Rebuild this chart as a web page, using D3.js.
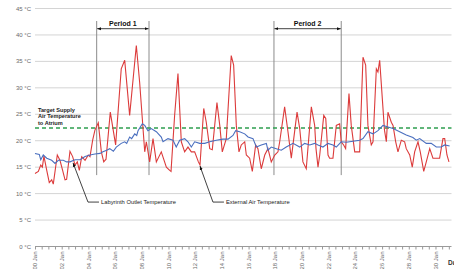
<!DOCTYPE html>
<html><head><meta charset="utf-8">
<script src="https://cdn.jsdelivr.net/npm/d3@7"></script>
<style>
html,body{margin:0;padding:0;background:#fff;overflow:hidden}
svg{display:block;font-family:"Liberation Sans",Arial,sans-serif}
</style></head><body>
<svg id="c" width="454" height="269"></svg>
<script>
// External air temperature [day, °C]
const externalAir = [
[0,13.8],[0.25,14.2],[0.43,15.4],[0.55,15],[0.67,17.1],[0.88,14.4],[1.07,12.1],[1.25,12.6],[1.37,11.8],[1.67,17.3],[1.87,16.3],[2.07,14.4],[2.25,12.6],[2.37,12.7],[2.62,18],[2.82,17],[3.0,15.4],[3.17,16],[3.32,14.4],[3.5,17],[3.75,16.3],[3.99,17.3],[4.12,17],[4.32,20.1],[4.49,22],[4.74,23.4],[4.97,17.9],[5.15,16],[5.32,16.5],[5.64,25.4],[6.04,19.2],[6.46,33.6],[6.72,35.2],[7.09,24.8],[7.59,38],[7.84,31],[8.22,17.9],[8.34,19.8],[8.59,16],[8.84,20.4],[9.09,16],[9.46,17.9],[9.84,15],[10.09,14.4],[10.19,14.2],[10.46,24.8],[10.71,32.7],[10.96,19.8],[11.21,17.9],[11.46,18.8],[11.71,17.9],[11.96,17.9],[12.24,16],[12.36,15.4],[12.64,26.1],[12.83,23.5],[13.09,18.5],[13.28,18.3],[13.63,27.2],[13.84,22.9],[14.03,17.9],[14.33,20.4],[14.7,36.1],[14.88,34.3],[15.08,22.9],[15.28,17.9],[15.45,19.2],[15.71,19.8],[15.83,17.3],[16.08,16.7],[16.28,14.2],[16.53,19.2],[16.7,18.5],[16.95,14.7],[17.21,17.3],[17.45,18.5],[17.7,16],[17.96,17.3],[18.2,17.9],[18.33,19.8],[18.7,26.4],[18.95,21.7],[19.2,16.7],[19.63,25.4],[19.83,22.3],[20.07,16],[20.32,14.7],[20.7,26.4],[20.95,22.9],[21.05,18.5],[21.2,15],[21.33,17.3],[21.63,24.8],[21.78,24.2],[21.95,17.3],[22.07,16.7],[22.32,16.7],[22.57,22.9],[22.82,23.2],[22.94,19.8],[23.12,19.2],[23.27,18.5],[23.52,28.9],[23.69,22.9],[23.95,17.9],[24.32,17.9],[24.57,35.8],[24.77,34.3],[24.94,22.9],[25.19,19.2],[25.32,19.8],[25.57,33.6],[25.69,33],[25.82,35.2],[26.18,22],[26.32,19.8],[26.44,25.4],[26.69,23.5],[26.82,22.9],[27.02,19.8],[27.19,17.9],[27.44,20.1],[27.69,19.8],[27.81,18.5],[28.07,17.3],[28.26,15],[28.44,17.9],[28.69,19.8],[28.86,17.9],[29.12,14.2],[29.31,16],[29.57,18.5],[29.81,16.7],[30.06,16.7],[30.31,16.7],[30.56,20.4],[30.69,20.4],[30.86,17.3],[31.01,16]
];
// Labyrinth outlet temperature [day, °C]
const labyrinthOutlet = [
[0,17.6],[0.32,17.4],[0.43,16.4],[0.62,17.3],[0.88,16.7],[1.25,16.3],[1.5,15.7],[1.75,16.3],[2.12,16.3],[2.37,16],[2.62,16],[3.0,16.4],[3.37,16.4],[3.75,17],[4.12,17.3],[4.49,17.5],[4.87,17.6],[5.09,17.9],[5.37,18.2],[5.6,18.5],[5.87,18],[6.09,18.8],[6.46,19.5],[6.72,19.8],[6.87,19.5],[7.09,20.7],[7.24,20.4],[7.47,21.3],[7.62,21],[7.72,21.9],[8.04,23.2],[8.22,22.9],[8.46,21.9],[8.71,22.3],[9.09,21.7],[9.46,20.7],[9.59,19.8],[9.96,20.4],[10.34,20.1],[10.58,18.8],[10.84,20.1],[11.21,20.4],[11.46,19.8],[11.71,18.8],[11.96,19.8],[12.34,19.5],[12.71,19.5],[13.09,19.8],[13.58,20.1],[14.08,20.3],[14.46,20.3],[14.83,21],[15.03,21.9],[15.33,21.7],[15.71,21.3],[15.96,20.7],[16.33,20.4],[16.58,18.8],[16.95,19.2],[17.33,19.5],[17.45,18.2],[17.7,18.8],[18.07,18.5],[18.45,18.2],[18.82,18.8],[19.33,19.5],[19.83,18.8],[20.2,19.5],[20.58,19.2],[20.95,19.5],[21.2,19.2],[21.57,18.8],[21.95,19.5],[22.32,19.2],[22.57,18.8],[22.94,19.8],[23.32,19.7],[23.82,19.9],[24.32,20.1],[24.57,20.4],[24.94,21.7],[25.32,21.3],[25.69,21.9],[26.07,22.9],[26.44,22.6],[26.82,22.3],[27.32,21.7],[27.81,21.1],[28.31,20.6],[28.56,20.1],[28.82,20.4],[29.31,19.5],[29.68,19.5],[30.06,18.8],[30.43,18.8],[30.69,19.2],[31.06,19]
];
const targetSupply = 22.4;
const targetLabel = ["Target Supply", "Air Temperature", "to Atrium"];
const periods = [
  {label: "Period 1", start: 4.62, end: 8.54},
  {label: "Period 2", start: 17.9, end: 22.94}
];
const yTicks = [0,5,10,15,20,25,30,35,40,45];
const xTickDays = d3.range(0, 31, 2);
const xTickLabels = xTickDays.map(d => String(d).padStart(2, "0") + " Jan");
const annotations = [
  {text: "Labyrinth Outlet Temperature", day: 2.85, value: 16.0, elbowDay: 3.97, labelY: 8.4},
  {text: "External Air Temperature", day: 12.36, value: 15.4, elbowDay: 13.33, labelY: 8.4}
];

const svg = d3.select("#c");
const x = d3.scaleLinear().domain([0, 31.2]).range([35, 451.5]);
const y = d3.scaleLinear().domain([0, 45]).range([246.5, 8.5]);

// markers
const defs = svg.append("defs");
defs.append("marker").attr("id","ah").attr("viewBox","0 0 10 10").attr("refX",10).attr("refY",5)
  .attr("markerWidth",5).attr("markerHeight",5).attr("orient","auto-start-reverse")
  .append("path").attr("d","M0,1L10,5L0,9Z").attr("fill","#111");

// gridlines
svg.append("g").selectAll("line").data(yTicks).join("line")
  .attr("x1", x(0)).attr("x2", x(31.2))
  .attr("y1", d => y(d)).attr("y2", d => y(d))
  .attr("stroke", d => d === 0 ? "#9a9a9a" : "#d4d4d4").attr("stroke-width", 1);

// y labels
svg.append("g").selectAll("text").data(yTicks).join("text")
  .attr("x", 31).attr("y", d => y(d)).attr("dy","0.35em")
  .attr("text-anchor","end").attr("font-size", 6).attr("fill","#6a6a6a")
  .text(d => d + " °C");

// x axis ticks
const xAxis = d3.axisBottom(x).tickValues(d3.range(0, 31.1, 0.5)).tickSize(3).tickFormat("");
const gx = svg.append("g").attr("transform", `translate(0,${y(0)})`).call(xAxis);
gx.select(".domain").remove();
gx.selectAll(".tick line").attr("stroke","#9a9a9a");

svg.append("g").selectAll("text").data(xTickDays).join("text")
  .attr("transform", d => `translate(${x(d)},${y(0)+5}) rotate(-90)`)
  .attr("text-anchor","end").attr("dy","0.35em")
  .attr("font-size", 6).attr("fill","#6a6a6a")
  .text((d,i) => xTickLabels[i]);

svg.append("text").attr("x", 448).attr("y", 265).attr("font-size", 6.5)
  .attr("font-weight","bold").attr("fill","#333").text("Date");

// period lines
const pg = svg.append("g");
periods.forEach(p => {
  [p.start, p.end].forEach(d => {
    pg.append("line").attr("x1", x(d)).attr("x2", x(d))
      .attr("y1", 21).attr("y2", y(13.5)).attr("stroke","#8c8c8c").attr("stroke-width",1);
  });
  pg.append("line").attr("x1", x(p.start)+0.5).attr("x2", x(p.end)-0.5)
    .attr("y1", 28.7).attr("y2", 28.7).attr("stroke","#111").attr("stroke-width",0.8)
    .attr("marker-start","url(#ah)").attr("marker-end","url(#ah)");
  pg.append("text").attr("x", (x(p.start)+x(p.end))/2).attr("y", 25.5)
    .attr("text-anchor","middle").attr("font-size",7).attr("font-weight","bold").attr("fill","#111")
    .text(p.label);
});

// target dashed line
svg.append("line").attr("x1", x(0)).attr("x2", x(31.2))
  .attr("y1", y(targetSupply)).attr("y2", y(targetSupply))
  .attr("stroke","#2e9e4f").attr("stroke-width",1.4).attr("stroke-dasharray","4,3");
svg.append("g").selectAll("text").data(targetLabel).join("text")
  .attr("x", 38).attr("y", (d,i) => 111.5 + i*6.8)
  .attr("font-size", 5.6).attr("font-weight","bold").attr("fill","#222").text(d => d);

// lines
const line = d3.line().x(d => x(d[0])).y(d => y(d[1]));
svg.append("path").datum(externalAir).attr("d", line)
  .attr("fill","none").attr("stroke","#dc3b3b").attr("stroke-width",1.1);
svg.append("path").datum(labyrinthOutlet).attr("d", line)
  .attr("fill","none").attr("stroke","#4a6fbf").attr("stroke-width",1.1);

// annotations
annotations.forEach(a => {
  const ly = y(a.labelY);
  const tx = x(a.elbowDay) + 13;
  svg.append("path")
    .attr("d", `M${tx-2},${ly}L${x(a.elbowDay)},${ly}L${x(a.day)},${y(a.value)+1}`)
    .attr("fill","none").attr("stroke","#111").attr("stroke-width",0.8).attr("marker-end","url(#ah)");
  svg.append("text").attr("x", tx).attr("y", ly).attr("dy","0.35em")
    .attr("font-size",5.8).attr("fill","#222").text(a.text);
});
</script>
</body></html>
